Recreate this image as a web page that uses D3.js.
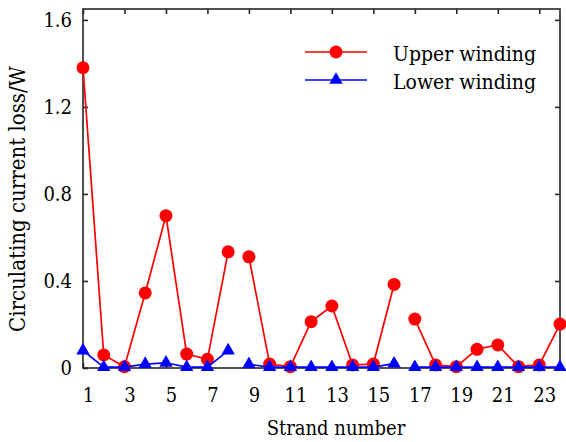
<!DOCTYPE html>
<html>
<head>
<meta charset="utf-8">
<script src="https://cdn.jsdelivr.net/npm/d3@7"></script>
<style>
  html, body { margin: 0; padding: 0; background: #fff; }
  svg { display: block; }
  svg text { font-stretch: condensed; }
</style>
</head>
<body>
<svg id="chart" width="566" height="442"></svg>
<script>
// Strand indices and circulating current loss (W) for each winding
const strands = d3.range(1, 25);
const upperLoss = [1.38, 0.06, 0.006, 0.345, 0.70, 0.064, 0.04, 0.534,
                   0.511, 0.018, 0.006, 0.213, 0.285, 0.014, 0.018, 0.384,
                   0.225, 0.014, 0.006, 0.086, 0.106, 0.006, 0.014, 0.202];
const lowerLoss = [0.08, 0.004, 0.004, 0.018, 0.024, 0.004, 0.004, 0.08,
                   0.017, 0.004, 0.004, 0.004, 0.004, 0.004, 0.004, 0.02,
                   0.004, 0.004, 0.004, 0.004, 0.004, 0.004, 0.004, 0.004];
// Strands are connected within each group of eight
const strandGroups = [[1, 8], [9, 16], [17, 24]];
const xTicks = [1, 3, 5, 7, 9, 11, 13, 15, 17, 19, 21, 23];
const yTicks = [0, 0.4, 0.8, 1.2, 1.6];
const seriesNames = ["Upper winding", "Lower winding"];

const FONT = '"DejaVu Serif Condensed", "DejaVu Serif", serif';
const svg = d3.select("#chart").attr("font-family", FONT);
const axisColor = "#262626";

const x = d3.scaleLinear().domain([1, 24]).range([83, 560]);
const y = d3.scaleLinear().domain([0, 1.65]).range([368, 9]);

// Frame
svg.append("rect")
  .attr("x", x(1)).attr("y", y(1.65))
  .attr("width", x(24) - x(1)).attr("height", y(0) - y(1.65))
  .attr("fill", "none").attr("stroke", axisColor).attr("stroke-width", 1.6);

// Axes with inward ticks (mirrored top/right)
const tickLen = 5;
const xAxis = svg.append("g").attr("transform", `translate(0,${y(0)})`)
  .call(d3.axisBottom(x).tickValues(xTicks).tickSizeInner(-tickLen).tickSizeOuter(0).tickPadding(20));
const xTop = svg.append("g").attr("transform", `translate(0,${y(1.65)})`)
  .call(d3.axisTop(x).tickValues(xTicks).tickSizeInner(-tickLen).tickSizeOuter(0).tickFormat(""));
const yAxis = svg.append("g").attr("transform", `translate(${x(1)},0)`)
  .call(d3.axisLeft(y).tickValues(yTicks).tickSizeInner(-tickLen).tickSizeOuter(0).tickPadding(11)
        .tickFormat(d => d === 0 ? "0" : d3.format(".1f")(d)));
const yRight = svg.append("g").attr("transform", `translate(${x(24)},0)`)
  .call(d3.axisRight(y).tickValues(yTicks).tickSizeInner(-tickLen).tickSizeOuter(0).tickFormat(""));

[xAxis, xTop, yAxis, yRight].forEach(g => {
  g.attr("font-family", FONT).attr("font-size", 20);
  g.select(".domain").remove();
  g.selectAll(".tick line").attr("stroke", axisColor).attr("stroke-width", 1.6);
  g.selectAll("text").attr("fill", "#000");
});
xAxis.selectAll("text").attr("dx", 5).attr("dy", "0.71em");

// Axis titles
svg.append("text")
  .attr("x", 336).attr("y", 435)
  .attr("text-anchor", "middle")
  .attr("font-size", 20)
  .text("Strand number");
svg.append("text")
  .attr("transform", "translate(25,199) rotate(-90)")
  .attr("text-anchor", "middle")
  .attr("font-size", 22)
  .text("Circulating current loss/W");

// Series
const series = [
  { name: seriesNames[0], values: upperLoss, color: "#ff0000", marker: d3.symbolCircle, size: Math.PI * 6.5 * 6.5 },
  { name: seriesNames[1], values: lowerLoss, color: "#0000ff", marker: d3.symbolTriangle, size: 78 }
];

const line = d3.line().x(d => x(d[0])).y(d => y(d[1]));

series.forEach(s => {
  const pts = strands.map((k, i) => [k, s.values[i]]);
  const g = svg.append("g");
  strandGroups.forEach(([a, b]) => {
    g.append("path")
      .datum(pts.filter(p => p[0] >= a && p[0] <= b))
      .attr("d", line)
      .attr("fill", "none")
      .attr("stroke", s.color)
      .attr("stroke-width", 1.7);
  });
  g.selectAll(".pt").data(pts).join("path")
    .attr("class", "pt")
    .attr("transform", d => `translate(${x(d[0])},${y(d[1])})`)
    .attr("d", d3.symbol().type(s.marker).size(s.size))
    .attr("fill", s.color);
});

// Legend
const legend = svg.append("g");
series.forEach((s, i) => {
  const ly = 52 + i * 28;
  legend.append("line")
    .attr("x1", 305).attr("x2", 367).attr("y1", ly).attr("y2", ly)
    .attr("stroke", s.color).attr("stroke-width", 1.7);
  legend.append("path")
    .attr("transform", `translate(336,${ly})`)
    .attr("d", d3.symbol().type(s.marker).size(s.size))
    .attr("fill", s.color);
  legend.append("text")
    .attr("x", 393).attr("y", ly + 9)
    .attr("font-size", 21)
    .text(s.name);
});
</script>
</body>
</html>
